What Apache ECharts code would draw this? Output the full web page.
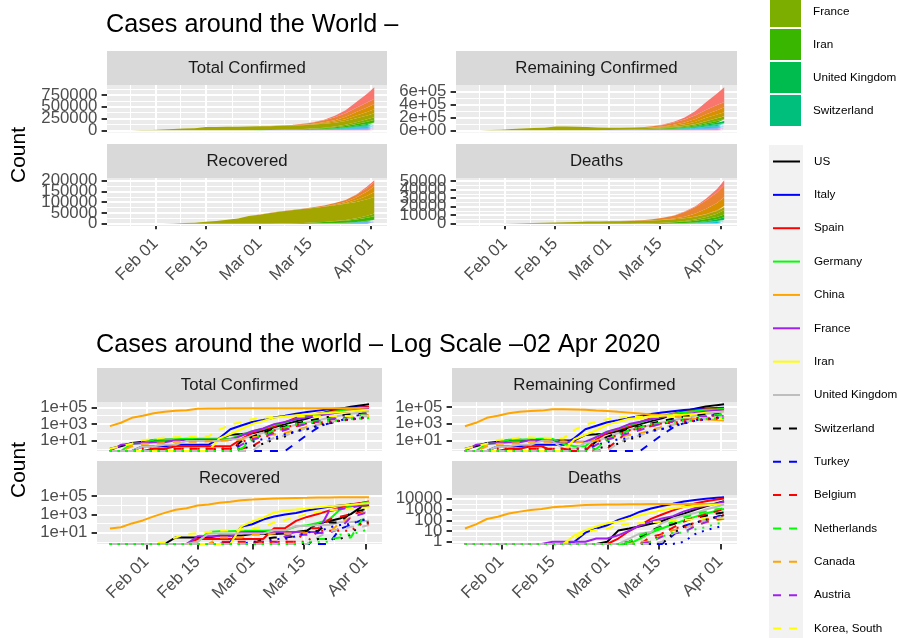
<!DOCTYPE html>
<html><head><meta charset="utf-8">
<script src="https://cdn.jsdelivr.net/npm/echarts@6/dist/echarts.min.js"></script>
<style>html,body{margin:0;padding:0;background:#fff}#c{width:899px;height:638px}</style>
</head><body><div id="c"></div>
<script>
// ---------------- DATA ----------------
const dates = ['2020-01-22','2020-01-25','2020-01-28','2020-01-31','2020-02-03','2020-02-06','2020-02-09','2020-02-12','2020-02-15','2020-02-18','2020-02-21','2020-02-24','2020-02-27','2020-03-01','2020-03-04','2020-03-07','2020-03-10','2020-03-13','2020-03-16','2020-03-19','2020-03-22','2020-03-25','2020-03-28','2020-03-31','2020-04-02'];
const countries = ['US','Italy','Spain','Germany','China','France','Iran','United Kingdom','Switzerland','Turkey','Belgium','Netherlands','Canada','Austria','Korea, South','Portugal','Brazil','Israel','Sweden','Norway'];

const US_confirmed = [1,2,5,7,11,12,12,13,13,13,15,51,60,74,153,402,959,2179,4632,13677,33276,65778,121478,188172,243453];
const US_recovered = [0,0,0,0,0,0,3,3,3,3,5,5,5,7,7,7,8,12,17,108,178,361,1072,7024,9707];
const US_deaths = [0,0,0,0,0,0,0,0,0,0,0,0,0,1,11,17,28,47,86,200,417,941,2026,3873,5926];
const Italy_confirmed = [0,0,0,2,2,2,3,3,3,3,20,229,655,1694,3089,5883,10149,17660,27980,41035,59138,74386,92472,105792,115242];
const Italy_recovered = [0,0,0,0,0,0,0,0,0,0,0,1,45,83,276,589,1004,1439,2749,4440,7024,9362,12384,15729,18278];
const Italy_deaths = [0,0,0,0,0,0,0,0,0,0,1,7,17,34,107,233,631,1266,2158,3405,5476,7503,10023,12428,13915];
const Spain_confirmed = [0,0,0,0,1,1,2,2,2,2,2,2,15,84,222,500,1695,5232,9942,17963,28768,49515,73235,95923,112065];
const Spain_recovered = [0,0,0,0,0,0,0,0,2,2,2,2,2,2,2,30,32,193,530,1107,2575,5367,12285,19259,26743];
const Spain_deaths = [0,0,0,0,0,0,0,0,0,0,0,0,0,0,2,10,35,133,342,830,1772,3647,5982,8464,10348];
const Germany_confirmed = [0,0,4,5,12,12,14,16,16,16,16,16,46,130,262,799,1457,3675,7272,15320,24873,37323,57695,71808,84794];
const Germany_recovered = [0,0,0,0,0,0,0,0,1,12,14,14,16,16,16,18,18,46,67,113,266,3243,8481,16100,22440];
const Germany_deaths = [0,0,0,0,0,0,0,0,0,0,0,0,0,0,0,0,2,7,17,44,94,206,433,775,1107];
const China_confirmed = [548,1406,5509,9802,19716,30587,40150,44653,68347,72364,75550,77241,78497,79932,80386,80738,80904,80981,81033,81250,81435,81661,81999,82279,82432];
const China_recovered = [28,39,103,219,615,1477,3219,4740,9395,12552,18704,25015,36117,42162,49856,55404,59897,64196,67017,70420,72362,74051,75100,76052,76565];
const China_deaths = [17,42,131,213,425,636,908,1115,1662,1868,2236,2592,2744,2870,2981,3070,3136,3177,3218,3249,3265,3285,3299,3309,3320];
const France_confirmed = [0,3,4,5,6,6,11,11,12,12,12,12,38,130,285,957,1787,3661,6650,10886,16018,25233,37575,52128,59929];
const France_recovered = [0,0,0,0,0,0,0,0,4,4,4,4,11,12,12,12,12,12,12,12,2200,3907,5700,9444,12428];
const France_deaths = [0,0,0,0,0,0,0,0,1,1,1,1,2,2,4,11,33,79,148,244,674,1333,2317,3532,5398];
const Iran_confirmed = [0,0,0,0,0,0,0,0,0,0,18,61,245,978,2336,5823,8042,11364,14991,18407,21638,27017,35408,44605,50468];
const Iran_recovered = [0,0,0,0,0,0,0,0,0,0,0,0,49,175,435,1669,2731,3529,4590,5979,7931,9625,11679,14656,16711];
const Iran_deaths = [0,0,0,0,0,0,0,0,0,0,4,12,26,54,77,145,291,514,853,1284,1685,2077,2517,2898,3160];
const UK_confirmed = [0,0,0,2,2,3,3,9,9,9,9,13,15,36,86,209,384,801,1553,2716,5741,9640,17312,25481,34173];
const UK_recovered = [0,0,0,0,0,0,0,0,1,8,8,8,8,8,8,18,18,53,53,67,67,140,151,179,208];
const UK_deaths = [0,0,0,0,0,0,0,0,0,0,0,0,0,0,0,2,6,8,55,144,282,465,1021,1793,2926];
const Switzerland_confirmed = [0,0,0,0,0,0,0,0,0,0,0,0,8,27,90,268,491,1139,2200,4075,7245,10897,14076,16605,18827];
const Switzerland_recovered = [0,0,0,0,0,0,0,0,0,0,0,0,0,0,2,3,3,4,15,15,131,131,1530,2967,4846];
const Switzerland_deaths = [0,0,0,0,0,0,0,0,0,0,0,0,0,0,0,1,3,11,27,43,98,153,264,433,536];
const Turkey_confirmed = [0,0,0,0,0,0,0,0,0,0,0,0,0,0,0,0,0,5,47,359,1236,2433,7402,13531,18135];
const Turkey_recovered = [0,0,0,0,0,0,0,0,0,0,0,0,0,0,0,0,0,0,0,0,0,26,70,243,357];
const Turkey_deaths = [0,0,0,0,0,0,0,0,0,0,0,0,0,0,0,0,0,0,0,4,30,59,108,214,356];
const Belgium_confirmed = [0,0,0,0,0,1,1,1,1,1,1,1,1,2,13,169,267,559,1058,1795,3401,4937,9134,12775,15348];
const Belgium_recovered = [0,0,0,0,0,0,0,0,0,0,1,1,1,1,1,1,1,1,31,31,263,547,1063,1696,2132];
const Belgium_deaths = [0,0,0,0,0,0,0,0,0,0,0,0,0,0,0,0,0,3,5,21,75,178,353,705,1143];
const Netherlands_confirmed = [0,0,0,0,0,0,0,0,0,0,0,0,1,10,38,188,382,804,1414,2467,4216,6438,9819,12667,14788];
const Netherlands_recovered = [0,0,0,0,0,0,0,0,0,0,0,0,0,0,0,0,0,0,0,2,2,3,3,254,260];
const Netherlands_deaths = [0,0,0,0,0,0,0,0,0,0,0,0,0,0,0,1,4,10,24,77,180,357,640,1040,1341];
const Canada_confirmed = [0,0,2,4,4,5,7,7,7,8,9,10,13,24,33,54,79,198,424,873,1465,3251,5576,8527,11284];
const Canada_recovered = [0,0,0,0,0,0,0,0,0,0,3,3,3,6,6,8,8,8,9,9,10,112,466,1324,2141];
const Canada_deaths = [0,0,0,0,0,0,0,0,0,0,0,0,0,0,0,0,1,1,4,12,20,36,63,101,136];
const Austria_confirmed = [0,0,0,0,0,0,0,0,0,0,0,0,3,14,29,79,182,504,1018,2013,3244,5588,8271,10180,11129];
const Austria_recovered = [0,0,0,0,0,0,0,0,0,0,0,0,0,0,0,0,4,6,6,9,9,28,479,1095,2022];
const Austria_deaths = [0,0,0,0,0,0,0,0,0,0,0,0,0,0,0,0,0,1,3,6,8,28,68,128,158];
const Korea_confirmed = [1,2,4,11,15,23,25,28,28,31,204,833,1766,3736,5621,7041,7513,7979,8236,8565,8897,9137,9478,9786,9976];
const Korea_recovered = [0,0,0,0,0,1,3,7,9,12,16,18,22,30,41,135,247,510,1137,1947,2909,3507,4811,5408,6021];
const Korea_deaths = [0,0,0,0,0,0,0,0,0,0,2,8,13,17,35,48,54,67,75,91,104,126,144,162,169];
const Portugal_confirmed = [0,0,0,0,0,0,0,0,0,0,0,0,0,0,5,21,41,112,331,785,1600,2995,5170,7443,9034];
const Portugal_recovered = [0,0,0,0,0,0,0,0,0,0,0,0,0,0,0,0,0,0,0,3,14,22,43,43,68];
const Portugal_deaths = [0,0,0,0,0,0,0,0,0,0,0,0,0,0,0,0,0,0,1,6,14,60,100,160,209];
const Brazil_confirmed = [0,0,0,0,0,0,0,0,0,0,0,0,1,2,4,13,31,151,234,621,1593,2554,3904,5717,7910];
const Brazil_recovered = [0,0,0,0,0,0,0,0,0,0,0,0,0,0,0,0,0,0,0,2,2,2,6,127,127];
const Brazil_deaths = [0,0,0,0,0,0,0,0,0,0,0,0,0,0,0,0,0,0,0,6,25,59,111,201,299];
const Israel_confirmed = [0,0,0,0,0,0,0,0,0,0,1,1,3,7,15,21,58,126,250,529,1071,2369,3460,5358,6857];
const Israel_recovered = [0,0,0,0,0,0,0,0,0,0,0,0,0,1,1,2,2,4,11,11,37,68,89,224,338];
const Israel_deaths = [0,0,0,0,0,0,0,0,0,0,0,0,0,0,0,0,0,0,0,0,1,5,12,21,36];
const Sweden_confirmed = [0,0,0,1,1,1,1,1,1,1,1,1,7,14,52,161,355,814,1103,1439,1934,2526,3447,4435,5568];
const Sweden_recovered = [0,0,0,0,0,0,0,0,0,0,0,0,0,0,1,1,1,1,1,16,16,16,16,103,103];
const Sweden_deaths = [0,0,0,0,0,0,0,0,0,0,0,0,0,0,0,0,0,1,6,20,21,62,105,180,308];
const Norway_confirmed = [0,0,0,0,0,0,0,0,0,0,0,0,1,19,56,147,400,996,1463,1746,2383,3084,4015,4641,5147];
const Norway_recovered = [0,0,0,0,0,0,0,0,0,0,0,0,0,0,0,0,0,0,1,1,1,6,7,12,32];
const Norway_deaths = [0,0,0,0,0,0,0,0,0,0,0,0,0,0,0,0,0,1,3,7,7,14,23,50,59];

// tick labels / breaks
const dateTicks = ['2020-02-01','2020-02-15','2020-03-01','2020-03-15','2020-04-01'];
const dateMinor = ['2020-01-25','2020-02-08','2020-02-22T12:00','2020-03-08','2020-03-23T12:00'];
const totalTicks = [0,250000,500000,750000];
const totalMinor = [125000,375000,625000,875000];
const remainingTicks = [0,200000,400000,600000];
const remainingMinor = [100000,300000,500000];
const recoveredTicks = [0,50000,100000,150000,200000];
const recoveredMinor = [25000,75000,125000,175000];
const deathsTicks = [0,10000,20000,30000,40000,50000];
const deathsMinor = [5000,15000,25000,35000,45000];
const logTicks = [10,1000,100000];
const logMinor = [1,100,10000];
const logDeathsTicks = [1,10,100,1000,10000];
const logDeathsMinor = [3.1623,31.623,316.23,3162.3];

// ---------------- BUILD ----------------
const table = {
  'US':[US_confirmed,US_recovered,US_deaths],
  'Italy':[Italy_confirmed,Italy_recovered,Italy_deaths],
  'Spain':[Spain_confirmed,Spain_recovered,Spain_deaths],
  'Germany':[Germany_confirmed,Germany_recovered,Germany_deaths],
  'China':[China_confirmed,China_recovered,China_deaths],
  'France':[France_confirmed,France_recovered,France_deaths],
  'Iran':[Iran_confirmed,Iran_recovered,Iran_deaths],
  'United Kingdom':[UK_confirmed,UK_recovered,UK_deaths],
  'Switzerland':[Switzerland_confirmed,Switzerland_recovered,Switzerland_deaths],
  'Turkey':[Turkey_confirmed,Turkey_recovered,Turkey_deaths],
  'Belgium':[Belgium_confirmed,Belgium_recovered,Belgium_deaths],
  'Netherlands':[Netherlands_confirmed,Netherlands_recovered,Netherlands_deaths],
  'Canada':[Canada_confirmed,Canada_recovered,Canada_deaths],
  'Austria':[Austria_confirmed,Austria_recovered,Austria_deaths],
  'Korea, South':[Korea_confirmed,Korea_recovered,Korea_deaths],
  'Portugal':[Portugal_confirmed,Portugal_recovered,Portugal_deaths],
  'Brazil':[Brazil_confirmed,Brazil_recovered,Brazil_deaths],
  'Israel':[Israel_confirmed,Israel_recovered,Israel_deaths],
  'Sweden':[Sweden_confirmed,Sweden_recovered,Sweden_deaths],
  'Norway':[Norway_confirmed,Norway_recovered,Norway_deaths]
};
function metric(c, m) {
  const [C, R, D] = table[c];
  if (m === 'confirmed') return C;
  if (m === 'recovered') return R;
  if (m === 'deaths') return D;
  return C.map((v, k) => v - R[k] - D[k]); // remaining confirmed
}
const ms = s => Date.parse(s.length === 10 ? s + 'T00:00:00Z' : s + ':00Z');
const MON = ['Jan','Feb','Mar','Apr','May','Jun','Jul','Aug','Sep','Oct','Nov','Dec'];
const fmtDate = v => { const d = new Date(v); return MON[d.getUTCMonth()] + ' ' + String(d.getUTCDate()).padStart(2, '0'); };
const fmtPlain = v => String(Math.round(v));
const fmtSci = v => {
  if (v === 0) return '0e+00';
  const e = Math.floor(Math.log10(Math.abs(v)) + 1e-9);
  const m = Math.round(v / Math.pow(10, e));
  return m + 'e' + (e < 0 ? '-' : '+') + String(Math.abs(e)).padStart(2, '0');
};
const t0 = ms(dates[0]), t1 = ms(dates[dates.length - 1]);
const xPad = (t1 - t0) * 0.05;
const xMin = t0 - xPad, xMax = t1 + xPad;

const FONT = '"Liberation Sans", Arial, Helvetica, sans-serif';
const fillColors = ['#F8766D','#EA8331','#D89000','#C09B00','#A3A500','#7CAE00','#39B600','#00BB4E','#00BF7D','#00C1A3','#00BFC4','#00BAE0','#00B0F6','#35A2FF','#9590FF','#C77CFF','#E76BF3','#FA62DB','#FF62BC','#FF6C91'];
const lineColors = ['#000000','#0000FF','#FF0000','#00FF00','#FFA500','#A020F0','#FFFF00','#BEBEBE'];
const lineTypes = ['solid', [8, 8], [2, 6]];

const panels = [
  {log:false, metric:'confirmed', strip:'Total Confirmed', x:107, y:85, w:280, h:47.5, ticks:totalTicks, minor:totalMinor, fmt:fmtPlain, bottom:false},
  {log:false, metric:'remaining', strip:'Remaining Confirmed', x:456, y:85, w:281, h:47.5, ticks:remainingTicks, minor:remainingMinor, fmt:fmtSci, bottom:false},
  {log:false, metric:'recovered', strip:'Recovered', x:107, y:178, w:280, h:48, ticks:recoveredTicks, minor:recoveredMinor, fmt:fmtPlain, bottom:true},
  {log:false, metric:'deaths', strip:'Deaths', x:456, y:178, w:281, h:48, ticks:deathsTicks, minor:deathsMinor, fmt:fmtPlain, bottom:true},
  {log:true, metric:'confirmed', strip:'Total Confirmed', x:97, y:402, w:285, h:49, ticks:logTicks, minor:logMinor, fmt:fmtSci, bottom:false},
  {log:true, metric:'remaining', strip:'Remaining Confirmed', x:452, y:402, w:285, h:49, ticks:logTicks, minor:logMinor, fmt:fmtSci, bottom:false},
  {log:true, metric:'recovered', strip:'Recovered', x:97, y:495, w:285, h:49, ticks:logTicks, minor:logMinor, fmt:fmtSci, bottom:true},
  {log:true, metric:'deaths', strip:'Deaths', x:452, y:495, w:285, h:49, ticks:logDeathsTicks, minor:logDeathsMinor, fmt:fmtPlain, bottom:true}
];

const AXCOL = '#4D4D4D', TICKCOL = '#333333', FS = 16.8;
const option = {
  animation: false,
  textStyle: {fontFamily: FONT},
  title: [
    {text: 'Cases around the World –', left: 106, top: 13, padding: 0, textStyle: {fontSize: 25.2, fontWeight: 'normal', color: '#000', fontFamily: FONT}},
    {text: 'Cases around the world – Log Scale –02 Apr 2020', left: 96, top: 333, padding: 0, textStyle: {fontSize: 25.2, fontWeight: 'normal', color: '#000', fontFamily: FONT}}
  ],
  legend: [
    {data: ['France ','Iran ','United Kingdom ','Switzerland '], orient: 'vertical', left: 770, top: -4, padding: 0,
     itemWidth: 31, itemHeight: 31, itemGap: 2, icon: 'rect', selectedMode: false,
     formatter: n => n.trim(), itemStyle: {borderWidth: 0},
     textStyle: {fontSize: 11.7, color: '#000', fontFamily: FONT, padding: [0, 0, 0, 7]}},
    {data: countries.slice(0, 15), orient: 'vertical', left: 772, top: 155.5, padding: 0,
     itemWidth: 27, itemHeight: 14, itemGap: 21.36, selectedMode: false,
     itemStyle: {opacity: 0}, lineStyle: {width: 2},
     textStyle: {fontSize: 11.7, color: '#000', fontFamily: FONT, padding: [0, 0, 0, 9]}}
  ],
  grid: [], xAxis: [], yAxis: [], series: [],
  graphic: [
    {type: 'rect', shape: {x: 769, y: 145, width: 34, height: 500}, style: {fill: '#F2F2F2'}, silent: true, z: -1},
    {type: 'text', x: 19, y: 155, rotation: Math.PI / 2, silent: true,
     style: {text: 'Count', font: '21px ' + FONT, fill: '#000', align: 'center', verticalAlign: 'middle', textAlign: 'center', textVerticalAlign: 'middle'}},
    {type: 'text', x: 19, y: 470, rotation: Math.PI / 2, silent: true,
     style: {text: 'Count', font: '21px ' + FONT, fill: '#000', align: 'center', verticalAlign: 'middle', textAlign: 'center', textVerticalAlign: 'middle'}}
  ]
};

panels.forEach((p, i) => {
  option.grid.push({left: p.x, top: p.y, width: p.w, height: p.h, show: true, backgroundColor: '#EBEBEB', borderWidth: 0});
  option.graphic.push({type: 'rect', shape: {x: p.x, y: p.y - 34, width: p.w, height: 34}, style: {fill: '#D9D9D9'}, silent: true});
  option.graphic.push({type: 'text', x: p.x + p.w / 2, y: p.y - 17, silent: true,
    style: {text: p.strip, font: FS + 'px ' + FONT, fill: '#1A1A1A', align: 'center', verticalAlign: 'middle', textAlign: 'center', textVerticalAlign: 'middle'}});

  const vals = countries.map(c => metric(c, p.metric));
  let yMin, yMax;
  if (p.log) {
    const pos = vals.flat().filter(v => v > 0);
    const lo = Math.log10(Math.min(...pos)), hi = Math.log10(Math.max(...pos));
    const pad = 0.05 * (hi - lo);
    yMin = Math.pow(10, lo - pad); yMax = Math.pow(10, hi + pad);
  } else {
    const sums = dates.map((_, k) => vals.reduce((s, a) => s + a[k], 0));
    const mx = Math.max(...sums);
    yMin = -0.05 * mx; yMax = mx * 1.05;
  }
  const xTicks = dateTicks.map(ms), xMinorV = dateMinor.map(ms);
  const yType = p.log ? 'log' : 'value';
  const xi = option.xAxis.length, yi = option.yAxis.length;
  option.xAxis.push({type: 'value', gridIndex: i, min: xMin, max: xMax, position: 'bottom',
    axisLine: {show: false}, splitLine: {show: false},
    axisTick: {show: p.bottom, customValues: xTicks, length: 5.4, lineStyle: {color: TICKCOL, width: 2}},
    axisLabel: {show: p.bottom, customValues: xTicks, formatter: fmtDate, rotate: 45, margin: 15, fontSize: FS, color: AXCOL, fontFamily: FONT,
      showMinLabel: true, showMaxLabel: true, hideOverlap: false}});
  // main y axis: ticks only
  option.yAxis.push({type: yType, logBase: 10, gridIndex: i, min: yMin, max: yMax, position: 'left',
    axisLine: {show: false}, splitLine: {show: false}, axisLabel: {show: false},
    axisTick: {show: true, customValues: p.ticks, length: 5.4, lineStyle: {color: TICKCOL, width: 2}}});
  // label axes (labels spread over 3 axes so the library keeps every overlapping label, like ggplot)
  [0, 1, 2].forEach(g => {
    const grp = p.ticks.filter((_, k) => k % 3 === g);
    if (!grp.length) return;
    option.yAxis.push({type: yType, logBase: 10, gridIndex: i, min: yMin, max: yMax, position: 'left',
      axisLine: {show: false}, splitLine: {show: false}, axisTick: {show: false},
      axisLabel: {show: true, customValues: grp, formatter: p.fmt, margin: 9.7, fontSize: FS, color: AXCOL, fontFamily: FONT,
        showMinLabel: true, showMaxLabel: true, hideOverlap: false}});
  });

  // panel grid lines (major + minor breaks) as mark lines under the data
  const inY = v => v >= yMin && v <= yMax;
  const gl = [];
  xTicks.forEach(v => gl.push({xAxis: v, lineStyle: {width: 2}}));
  xMinorV.filter(v => v >= xMin && v <= xMax).forEach(v => gl.push({xAxis: v, lineStyle: {width: 1}}));
  p.ticks.filter(inY).forEach(v => gl.push({yAxis: v, lineStyle: {width: 2}}));
  p.minor.filter(inY).forEach(v => gl.push({yAxis: v, lineStyle: {width: 1}}));
  option.series.push({type: 'line', name: 'grid' + i, xAxisIndex: xi, yAxisIndex: yi, z: 1,
    data: [[t0, p.log ? yMax : 0]], symbol: 'none', showSymbol: false, silent: true, lineStyle: {opacity: 0},
    markLine: {silent: true, symbol: ['none', 'none'], label: {show: false}, animation: false, z: 1,
      emphasis: {disabled: true}, lineStyle: {color: '#FFFFFF', type: 'solid', opacity: 1}, data: gl}});

  if (!p.log) {
    // stacked areas: first country on top (ggplot position_stack order)
    for (let j = countries.length - 1; j >= 0; j--) {
      option.series.push({type: 'line', name: countries[j] + ' ', xAxisIndex: xi, yAxisIndex: yi,
        stack: 'stk' + i, symbol: 'none', showSymbol: false, silent: true, color: fillColors[j], z: 3,
        lineStyle: {width: 0}, areaStyle: {color: fillColors[j], opacity: 1},
        encode: {x: 1, y: 0},
        data: dates.map((d, k) => [vals[j][k], ms(d)])});
    }
  } else {
    countries.forEach((c, j) => {
      const col = lineColors[j % 8];
      option.series.push({type: 'line', name: c, xAxisIndex: xi, yAxisIndex: yi,
        symbol: 'none', showSymbol: false, silent: true, color: col, z: 3,
        lineStyle: {color: col, width: 2, type: lineTypes[Math.floor(j / 8)], cap: 'butt'},
        data: dates.map((d, k) => [ms(d), vals[j][k] > 0 ? vals[j][k] : yMin])});
    });
  }
});

const chart = echarts.init(document.getElementById('c'), null, {renderer: 'canvas'});
chart.setOption(option);
</script>
</body></html>
